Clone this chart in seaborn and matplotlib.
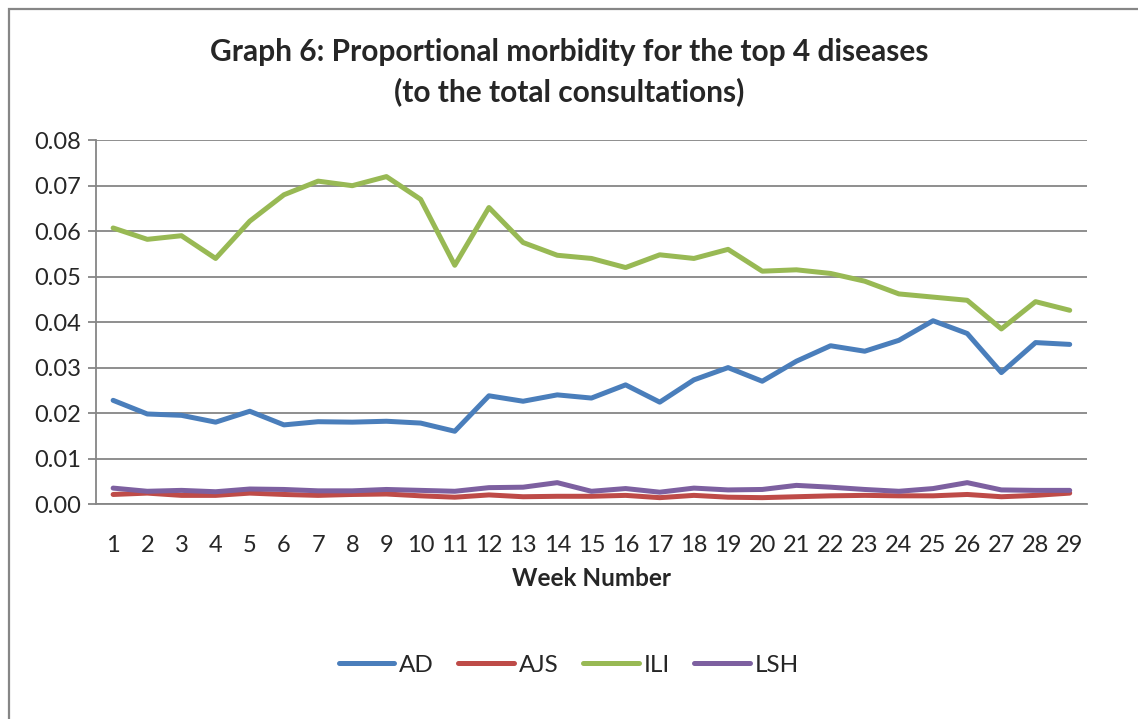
import numpy as np
import pandas as pd
import matplotlib
matplotlib.use("Agg")
import matplotlib.pyplot as plt
from matplotlib.patches import Rectangle
from matplotlib.ticker import MultipleLocator, FixedLocator
import seaborn as sns

weeks = list(range(1, 30))
ad = [0.0228, 0.0198, 0.0195, 0.0180, 0.0204, 0.0174, 0.0181, 0.0180, 0.0182, 0.0178,
      0.0160, 0.0238, 0.0226, 0.0240, 0.0233, 0.0262, 0.0224, 0.0273, 0.0300, 0.0270,
      0.0314, 0.0348, 0.0336, 0.0360, 0.0403, 0.0375, 0.0289, 0.0355, 0.0351]
ajs = [0.0021, 0.0024, 0.0019, 0.0019, 0.0024, 0.0021, 0.0019, 0.0021, 0.0022, 0.0018,
       0.0015, 0.0020, 0.0016, 0.0017, 0.0017, 0.0019, 0.0014, 0.0019, 0.0015, 0.0014,
       0.0016, 0.0018, 0.0019, 0.0018, 0.0018, 0.0021, 0.0016, 0.0019, 0.0024]
ili = [0.0607, 0.0582, 0.0590, 0.0540, 0.0622, 0.0680, 0.0710, 0.0700, 0.0720, 0.0670,
       0.0525, 0.0652, 0.0575, 0.0547, 0.0540, 0.0520, 0.0548, 0.0540, 0.0560, 0.0512,
       0.0515, 0.0507, 0.0490, 0.0462, 0.0455, 0.0448, 0.0385, 0.0445, 0.0426]
lsh = [0.0035, 0.0028, 0.0030, 0.0027, 0.0033, 0.0032, 0.0029, 0.0029, 0.0032, 0.0030,
       0.0028, 0.0036, 0.0037, 0.0047, 0.0028, 0.0034, 0.0026, 0.0035, 0.0031, 0.0032,
       0.0041, 0.0037, 0.0032, 0.0028, 0.0034, 0.0047, 0.0031, 0.0030, 0.0030]

diseases = ["AD", "AJS", "ILI", "LSH"]
colores = ["#4A7EBB", "#BE4B48", "#98B954", "#7D60A0"]

df = pd.DataFrame({"week": weeks * 4,
                   "value": ad + ajs + ili + lsh,
                   "disease": np.repeat(diseases, len(weeks))})

sns.set_style("white")
plt.rcParams["font.family"] = ["Lato", "DejaVu Sans"]

fig = plt.figure(figsize=(11.38, 7.19), dpi=100)
ax = fig.add_axes([0.0844, 0.299, 0.8706, 0.506])

sns.lineplot(data=df, x="week", y="value", hue="disease", palette=colores,
             linewidth=3.6, ax=ax, legend=False, solid_capstyle="round")

grid_c = "#868686"
ax.set_xlim(0.5, 29.5)
ax.set_ylim(0, 0.08)
ax.yaxis.set_major_locator(MultipleLocator(0.01))
ax.yaxis.set_major_formatter(plt.FuncFormatter(lambda v, p: f"{v:.2f}"))
ax.set_xticks(weeks)
ax.set_xticklabels([str(w) for w in weeks])
ax.xaxis.set_minor_locator(FixedLocator(np.arange(0.5, 30, 1)))
ax.tick_params(axis="x", which="major", length=0, labelsize=17, pad=22)
ax.tick_params(axis="x", which="minor", length=6, color=grid_c, width=1.3)
ax.tick_params(axis="y", which="major", length=6, color=grid_c, width=1.3,
               labelsize=17, pad=5, left=True)
ax.grid(axis="y", color=grid_c, linewidth=1.3)
ax.set_axisbelow(True)
for s in ["top", "right"]:
    ax.spines[s].set_visible(False)
for s in ["left", "bottom"]:
    ax.spines[s].set_color(grid_c)
    ax.spines[s].set_linewidth(1.3)

ax.set_xlabel("Week Number", fontsize=17.5, fontweight="bold", labelpad=8)
ax.set_ylabel("")
fig.text(0.5, 0.9, "Graph 6: Proportional morbidity for the top 4 diseases\n(to the total consultations)",
         ha="center", va="center", fontsize=21.5, fontweight="bold", linespacing=1.45)

handles = [plt.Line2D([0], [0], color=c, lw=3.6, solid_capstyle="round") for c in colores]
fig.legend(handles, diseases, loc="center", bbox_to_anchor=(0.5, 0.075), ncol=4,
           frameon=False, fontsize=17.5, handlelength=2.3, handletextpad=0.2,
           columnspacing=1.0)

# marco del grafico
fig.patches.append(Rectangle((0.0075, -0.05), 1.1, 1.0375, transform=fig.transFigure,
                             fill=False, edgecolor=grid_c, linewidth=1.6))

plt.savefig("out.png", dpi=100)
